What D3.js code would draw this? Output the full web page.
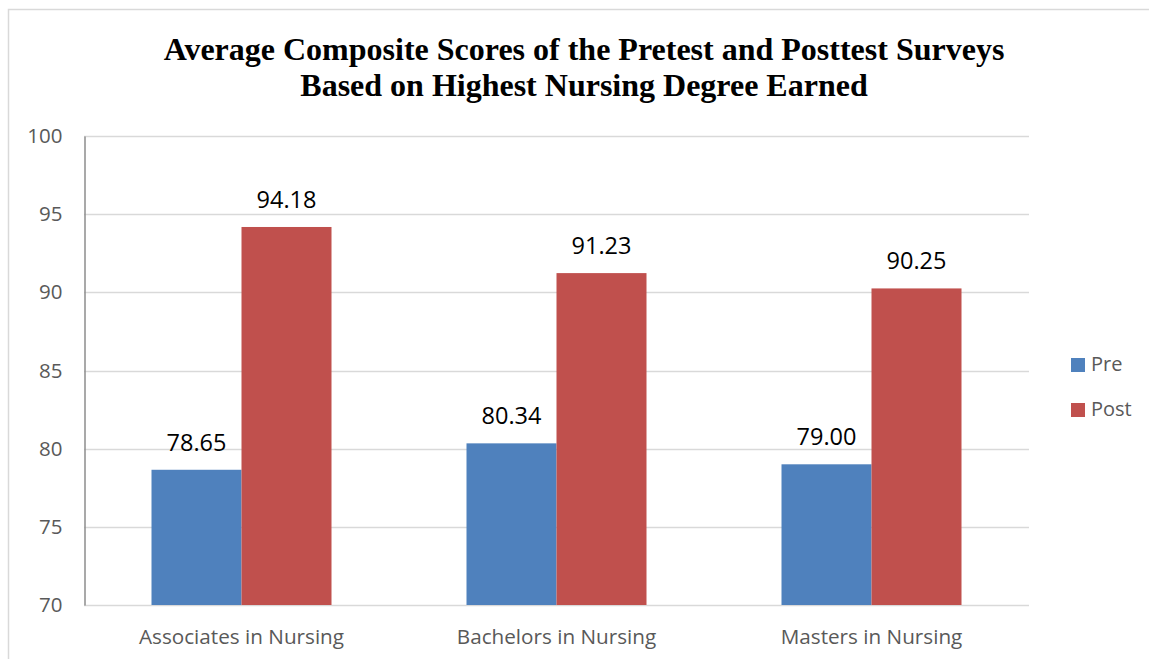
<!DOCTYPE html>
<html>
<head>
<meta charset="utf-8">
<script src="https://cdn.jsdelivr.net/npm/d3@7"></script>
<style>
  body { margin: 0; background: #fff; }
  svg { display: block; }
</style>
</head>
<body>
<div id="chart-area"></div>
<script>

var categories = ["Associates in Nursing", "Bachelors in Nursing", "Masters in Nursing"];
var seriesNames = ["Pre", "Post"];
var preValues = [78.65, 80.34, 79.00];
var postValues = [94.18, 91.23, 90.25];
var yTicks = [70, 75, 80, 85, 90, 95, 100];
var titleLines = ["Average Composite Scores of the Pretest and Posttest Surveys",
                  "Based on Highest Nursing Degree Earned"];

var width = 1149,
    height = 659;

var colors = { Pre: "#4f81bd", Post: "#c0504d" };
var textFont = "'Open Sans', 'Noto Sans', sans-serif";

var svg = d3.select("#chart-area").append("svg")
    .attr("width", width)
    .attr("height", height);

// outer frame (left + top edges visible)
svg.append("path")
    .attr("d", "M8.5," + height + "V9.5H" + width)
    .attr("fill", "none")
    .attr("stroke", "#d9d9d9")
    .attr("stroke-width", 1.5);

// Title
svg.append("g").selectAll("text")
    .data(titleLines)
    .enter().append("text")
    .attr("x", 584)
    .attr("y", function(d, i) { return 59.5 + i * 36; })
    .attr("text-anchor", "middle")
    .attr("font-family", "'Liberation Serif', 'Times New Roman', serif")
    .attr("font-weight", "bold")
    .attr("font-size", 32)
    .attr("fill", "#000")
    .text(function(d) { return d; });

// Scales
var x0 = d3.scaleBand()
    .domain(categories)
    .range([84, 1029]);

var x1 = d3.scaleBand()
    .domain(seriesNames)
    .range([0, x0.bandwidth()])
    .paddingOuter(0.75);

var y = d3.scaleLinear()
    .domain([70, 100])
    .range([605, 136]);

// Gridlines
svg.append("g").selectAll("line")
    .data(yTicks.slice(1))
    .enter().append("line")
    .attr("x1", 84)
    .attr("x2", 1029)
    .attr("y1", function(d) { return Math.round(y(d)) + 0.5; })
    .attr("y2", function(d) { return Math.round(y(d)) + 0.5; })
    .attr("stroke", "#d9d9d9")
    .attr("stroke-width", 1.5);

// bottom axis line
svg.append("line")
    .attr("x1", 84).attr("x2", 1029)
    .attr("y1", y(70) + 0.5).attr("y2", y(70) + 0.5)
    .attr("stroke", "#d9d9d9")
    .attr("stroke-width", 1.5);

// Y axis
var yAxis = svg.append("g")
    .attr("transform", "translate(84.5,0)")
    .call(d3.axisLeft(y).tickValues(yTicks).tickSize(0).tickPadding(22));

yAxis.select(".domain")
    .attr("stroke", "#8c8c8c")
    .attr("stroke-width", 1.5);

yAxis.selectAll("text")
    .attr("font-family", textFont)
    .attr("font-size", 20.5)
    .attr("fill", "#595959");

// Bars
var rows = categories.map(function(c, i) {
    return { category: c, values: [
        { key: "Pre", value: preValues[i] },
        { key: "Post", value: postValues[i] }
    ]};
});

var group = svg.append("g").selectAll("g")
    .data(rows)
    .enter().append("g")
    .attr("transform", function(d) { return "translate(" + x0(d.category) + ",0)"; });

group.selectAll("rect")
    .data(function(d) { return d.values; })
    .enter().append("rect")
    .attr("x", function(d) { return x1(d.key); })
    .attr("width", x1.bandwidth())
    .attr("y", function(d) { return y(d.value); })
    .attr("height", function(d) { return y(70) - y(d.value); })
    .attr("fill", function(d) { return colors[d.key]; });

group.selectAll("text")
    .data(function(d) { return d.values; })
    .enter().append("text")
    .attr("x", function(d) { return x1(d.key) + x1.bandwidth() / 2; })
    .attr("y", function(d) { return y(d.value) - 19; })
    .attr("text-anchor", "middle")
    .attr("font-family", textFont)
    .attr("font-size", 23.5)
    .attr("fill", "#000")
    .text(function(d) { return d.value.toFixed(2); });

// Category labels
svg.append("g").selectAll("text")
    .data(categories)
    .enter().append("text")
    .attr("x", function(d) { return x0(d) + x0.bandwidth() / 2; })
    .attr("y", 644)
    .attr("text-anchor", "middle")
    .attr("font-family", textFont)
    .attr("font-size", 20.7)
    .attr("fill", "#595959")
    .text(function(d) { return d; });

// Legend
var legend = svg.append("g").selectAll("g")
    .data(seriesNames)
    .enter().append("g")
    .attr("transform", function(d, i) { return "translate(1071," + (358 + i * 45) + ")"; });

legend.append("rect")
    .attr("width", 14)
    .attr("height", 14)
    .attr("fill", function(d) { return colors[d]; });

legend.append("text")
    .attr("x", 20)
    .attr("y", 13)
    .attr("font-family", textFont)
    .attr("font-size", 20)
    .attr("fill", "#595959")
    .text(function(d) { return d; });

</script>
</body>
</html>
